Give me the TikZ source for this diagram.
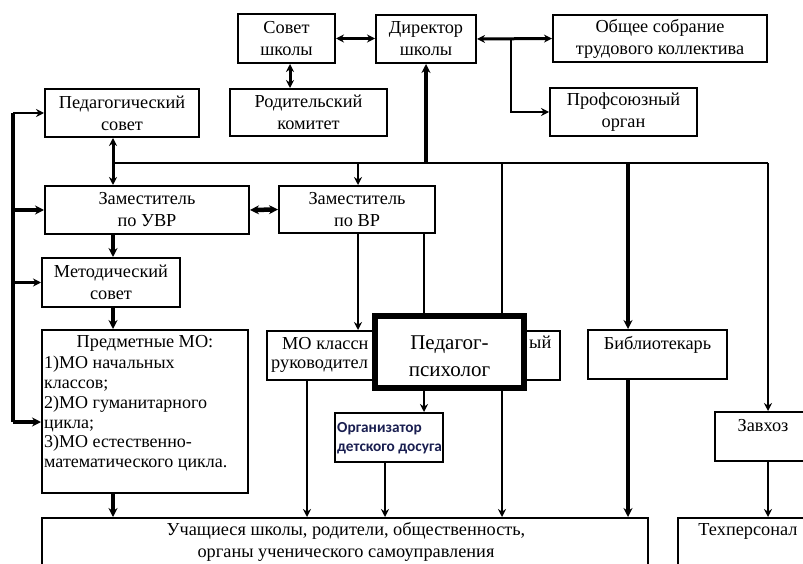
\documentclass[tikz,border=0pt]{standalone}
\usepackage{fontspec}
\setmainfont{Liberation Serif}
\newfontfamily\orgfont{Carlito}
\usetikzlibrary{arrows.meta,calc}
\definecolor{navy}{RGB}{25,30,80}
\begin{document}
\begin{tikzpicture}[x=1pt,y=-1pt,
  box/.style={draw,line width=2pt,inner sep=0pt,align=center,font=\fontsize{18.3}{22}\selectfont},
  txt/.style={inner sep=0pt,align=center,font=\fontsize{18.3}{22}\selectfont},
  ln/.style={line width=2.5pt},
  arr/.style={line width=2.5pt,-{Stealth[length=8pt,width=8pt]}},
  arrb/.style={line width=4pt,-{Stealth[length=9pt,width=9pt]}},
  dbl/.style={line width=3pt,{Stealth[length=8pt,width=8pt]}-{Stealth[length=8pt,width=8pt]}},
  dblb/.style={line width=4.5pt,{Stealth[length=9pt,width=9pt]}-{Stealth[length=9pt,width=9pt]}}
]
\useasboundingbox (0,0) rectangle (803,564);
\clip (0,0) rectangle (803,564);

% columns
\coordinate (lb) at (13,0);
\coordinate (colA) at (113,0);
\coordinate (colB) at (358,0);
\coordinate (colC) at (424,0);
\coordinate (colD) at (307,0);
\coordinate (colE) at (385,0);
\coordinate (colF) at (502,0);
\coordinate (colG) at (628,0);
\coordinate (colH) at (768,0);
\coordinate (busL) at (113,163);
\coordinate (busR) at (768,163);

% boxes
\node[box,minimum width=97pt,minimum height=49pt] (sovet) at (286.5,38.5) {Совет\\школы};
\node[box,minimum width=100pt,minimum height=48pt] (dir) at (426,39) {Директор\\школы};
\node[box,minimum width=214pt,minimum height=47pt] (obsh) at (660,38.5) {Общее собрание\\трудового коллектива};
\node[box,minimum width=147pt,minimum height=48pt] (prof) at (623.5,112) {Профсоюзный\\орган};
\node[box,minimum width=157pt,minimum height=47pt] (rod) at (308.5,112.5) {Родительский\\комитет};
\node[box,minimum width=154pt,minimum height=48pt] (ped) at (122,113) {Педагогический\\совет};
\node[box,minimum width=204pt,minimum height=48pt] (uvr) at (147,210) {Заместитель\\по УВР};
\node[box,minimum width=156pt,minimum height=47pt] (vr) at (357,209.5) {Заместитель\\по ВР};
\node[box,minimum width=138pt,minimum height=49pt] (met) at (111,282.5) {Методический\\совет};
\node[box,minimum width=206pt,minimum height=163pt] (predm) at (145,411.5) {};
\node[txt] (predmT) at (145,343) {Предметные МО:};
\node[txt,anchor=north west,align=left,font=\fontsize{18}{19.8}\selectfont] (predmL) at (44,356)
  {1)МО начальных\\классов;\\2)МО гуманитарного\\цикла;\\3)МО естественно-\\математического цикла.};
\node[box,minimum width=128pt,minimum height=49pt] (mokl) at (331,355.5) {};
\node[txt,anchor=west,align=left] (moklT1) at (282,344) {МО классн};
\node[txt,anchor=west,align=left] (moklT2) at (271,366) {руководител};
\node[box,minimum width=120pt,minimum height=49pt] (soc) at (500,355.5) {};
\node[txt,anchor=west] (socT) at (529,342) {ый};
\node[box,minimum width=108pt,minimum height=49pt] (org) at (389,437.5) {};
\node[anchor=west,inner sep=0pt,align=left,text=navy,font=\orgfont\bfseries\fontsize{15.3}{19}\selectfont] (orgT) at (337,438) {Организатор\\детского досуга};
\node[box,minimum width=139pt,minimum height=49pt] (bib) at (657.5,354.5) {};
\node[txt] (bibT) at (657.5,345) {Библиотекарь};
\node[box,minimum width=96pt,minimum height=49pt] (zav) at (763,436.5) {};
\node[txt] (zavT) at (763,426) {Завхоз};
\node[box,minimum width=140pt,minimum height=84pt] (teh) at (748,560) {};
\node[txt] (tehT) at (748,531) {Техперсонал};
\node[box,minimum width=606pt,minimum height=84pt] (uch) at (345,560) {};
\node[txt] (uchT) at (346,542) {Учащиеся школы, родители, общественность,\\органы ученического самоуправления};

% top connectors
\draw[dbl] (sovet.east) -- (sovet.east -| dir.west);
\draw[dbl] (sovet.south -| 290,0) -- (rod.north -| 290,0);
\draw[dbl] (dir.east) -- (obsh.west);
\coordinate (br) at (511,39);
\draw[arr] (br) |- (prof.west);
% main bus
\draw[ln] (busL) -- (busR);
\draw[arrb] (dir.south |- busL) -- (dir.south);
\draw[dbl] (ped.south -| colA) -- (uvr.north -| colA);
\draw[arr] (busL -| colB) -- (vr.north -| colB);
\draw[dblb] (uvr.east) -- (vr.west);
\draw[arrb] (uvr.south -| colA) -- (met.north -| colA);
\draw[arrb] (met.south -| colA) -- (predm.north -| colA);
\draw[arrb] (predm.south -| colA) -- (uch.north -| colA);
% left bus
\coordinate (lbBot) at (13,422);
\draw[line width=3.5pt] (ped.west -| lb) -- (lbBot);
\draw[arr] (ped.west -| lb) -- (ped.west);
\draw[arrb] (uvr.west -| lb) -- (uvr.west);
\draw[arr] (met.west -| lb) -- (met.west);
\draw[arrb] (lbBot) -- (lbBot -| predm.west);
% branches
\draw[arr] (vr.south -| colB) -- (mokl.north -| colB);
\draw[arr] (busL -| colF) -- (soc.north -| colF);
\draw[arr] (soc.south -| colF) -- (uch.north -| colF);
\draw[arr] (mokl.south -| colD) -- (uch.north -| colD);
\draw[arr] (org.south -| colE) -- (uch.north -| colE);
\draw[arrb] (busL -| colG) -- (bib.north -| colG);
\draw[arrb] (bib.south -| colG) -- (uch.north -| colG);
\draw[arr] (busR) -- (zav.north -| colH);
\draw[arr] (zav.south -| colH) -- (teh.north -| colH);
\draw[ln] (vr.south -| colC) -- (colC |- 0,340);

% overlay
\node[draw,line width=6pt,fill=white,minimum width=149pt,minimum height=72pt,inner sep=0pt] (psy) at (449.5,352) {};
\node[inner sep=0pt,align=center,font=\fontsize{21}{27}\selectfont] (psyT) at (449.5,356) {Педагог-\\психолог};
\draw[arr] (psy.south -| colC) -- (org.north -| colC);
\end{tikzpicture}
\end{document}
